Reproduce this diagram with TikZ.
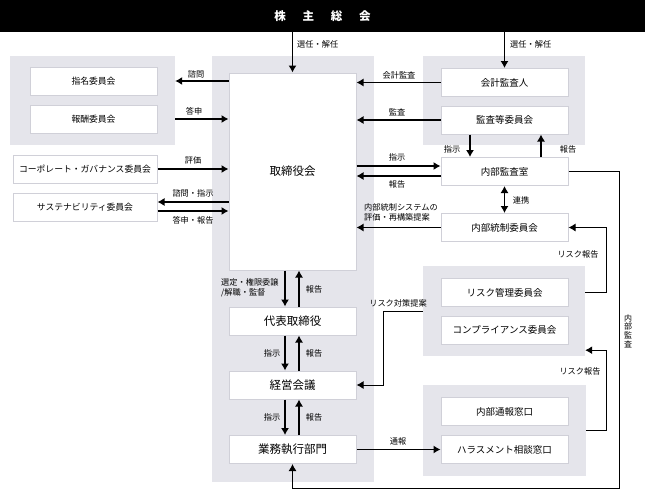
\documentclass[tikz,border=0pt]{standalone}
\usepackage{fontspec}
\setmainfont{Noto Sans CJK JP}
\usepackage{tikz}
\usetikzlibrary{arrows.meta}
\definecolor{grpgray}{HTML}{E5E5EB}
\definecolor{boxline}{HTML}{D0D0D8}
\tikzset{
	grp/.style={fill=grpgray, draw=none, inner sep=0pt},
	box/.style={draw=boxline, line width=1pt, fill=white, inner sep=0pt, minimum width=127pt, minimum height=28pt, font=\fontsize{9.5}{11}\selectfont},
	bigbox/.style={box, font=\fontsize{11.5}{13}\selectfont},
	arr/.style={line width=1.1pt, -{Latex[length=7pt,width=8pt]}},
	lbl/.style={font=\fontsize{8.2}{9.8}\selectfont, inner sep=0pt},
}

\begin{document}
\begin{tikzpicture}[x=1pt, y=-1pt]
		%%%%% START %%%%%
		\useasboundingbox (0, 0) rectangle (645, 490);
		
		\node[fill=black, inner sep=0pt, minimum width=645pt, minimum height=32pt, text=white, font=\bfseries\fontsize{11.5}{13}\selectfont] (soukai) at (322.5, 16) {株\hspace{1.45em}主\hspace{1.45em}総\hspace{1.45em}会};
		
		% grey groups
		\node[grp, minimum width=165pt, minimum height=89pt] (gleft) at (92.5, 100.5) {};
		\node[grp, minimum width=162pt, minimum height=426pt] (gcenter) at (293, 269) {};
		\node[grp, minimum width=162pt, minimum height=89pt] (gtop) at (504, 100.5) {};
		\node[grp, minimum width=162pt, minimum height=90pt] (gmid) at (504, 311) {};
		\node[grp, minimum width=163pt, minimum height=91pt] (gbot) at (504.5, 430.5) {};
		
		% left
		\node[box, font=\fontsize{8.8}{10}\selectfont] (shimei) at (93.5, 81) {指名委員会};
		\node[box, font=\fontsize{8.8}{10}\selectfont] (houshu) at (93.5, 119) {報酬委員会};
		\node[box, minimum width=144pt, font=\fontsize{8.8}{10}\selectfont] (cg) at (85, 169) {コーポレート・ガバナンス委員会};
		\node[box, minimum width=144pt, font=\fontsize{8.8}{10}\selectfont] (sus) at (85, 207) {サステナビリティ委員会};
		
		% center
		\node[bigbox, minimum height=197pt] (torishimari) at (292.5, 171.5) {取締役会};
		\node[bigbox] (daihyo) at (292.5, 321) {代表取締役};
		\node[bigbox] (keiei) at (292.5, 385) {経営会議};
		\node[bigbox] (gyomu) at (292.5, 449.5) {業務執行部門};
		
		% right
		\node[box] (kaikei) at (504.5, 82.5) {会計監査人};
		\node[box] (kansa) at (504.5, 120) {監査等委員会};
		\node[box] (naibu) at (504.5, 171.5) {内部監査室};
		\node[box] (tousei) at (504.5, 227.5) {内部統制委員会};
		\node[box] (risk) at (504.5, 292.5) {リスク管理委員会};
		\node[box] (comp) at (504.5, 330) {コンプライアンス委員会};
		\node[box] (tsuho) at (504.5, 411.5) {内部通報窓口};
		\node[box] (hara) at (504.5, 449.5) {ハラスメント相談窓口};
		
		% from the shareholders
		\draw[arr] (soukai.south -| torishimari) -- (torishimari.north);
		\node[lbl, anchor=west] (l1) at (297, 44) {選任・解任};
		\draw[arr] (soukai.south -| kaikei) -- (kaikei.north);
		\node[lbl, anchor=west] (l2) at (510, 44) {選任・解任};
		
		% left arrows
		\draw[arr] (torishimari.west |- shimei) -- (gleft.east |- shimei);
		\node[lbl] (l3) at (196, 74) {諮問};
		\draw[arr] (gleft.east |- houshu) -- (torishimari.west |- houshu);
		\node[lbl] (l4) at (194, 111) {答申};
		\draw[arr] (cg.east) -- (torishimari.west |- cg);
		\node[lbl] (l5) at (193, 160) {評価};
		\draw[arr] ([yshift=5pt]sus.east -| torishimari.west) -- ([yshift=5pt]sus.east);
		\node[lbl] (l6) at (193, 193) {諮問・指示};
		\draw[arr] ([yshift=-4pt]sus.east) -- ([yshift=-4pt]sus.east -| torishimari.west);
		\node[lbl] (l7) at (193, 220) {答申・報告};
		
		% right arrows
		\draw[arr] (kaikei.west) -- (torishimari.east |- kaikei);
		\node[lbl] (l8) at (399, 75) {会計監査};
		\draw[arr] (kansa.west) -- (torishimari.east |- kansa);
		\node[lbl] (l9) at (397, 112) {監査};
		\draw[arr] ([yshift=5.5pt]naibu.west -| torishimari.east) -- ([yshift=5.5pt]naibu.west);
		\node[lbl] (l10) at (397, 157) {指示};
		\draw[arr] ([yshift=-4.5pt]naibu.west) -- ([yshift=-4.5pt]naibu.west -| torishimari.east);
		\node[lbl] (l11) at (397, 184) {報告};
		\draw[arr] ([xshift=-34.5pt]kansa.south) -- ([xshift=-34.5pt]naibu.north);
		\node[lbl] (l12) at (452, 149) {指示};
		\draw[arr] ([xshift=36.5pt]naibu.north) -- ([xshift=36.5pt]kansa.south);
		\node[lbl] (l13) at (568, 149) {報告};
		\draw[line width=1.1pt, {Latex[length=7pt,width=8pt]}-{Latex[length=7pt,width=8pt]}] (naibu.south) -- (tousei.north);
		\node[lbl] (l14) at (521, 200) {連携};
		\draw[arr] (tousei.west) -- (torishimari.east |- tousei);
		\node[lbl, anchor=west, align=left] (l15) at (364, 212) {内部統制システムの\\評価・再構築提案};
		
		% internal audit
		\coordinate (audit) at (619, 488);
		\draw[arr, line width=1pt] (naibu.east) -| (audit) -| (gyomu.south);
		\node[lbl, align=center, font=\fontsize{8}{8.6}\selectfont] (l16) at (628, 331) {内\\部\\監\\査};
		
		% risk reports
		\draw[arr, line width=1pt] (gmid.east |- risk) -| ([xshift=38pt]tousei.east) -- (tousei.east);
		\node[lbl] (l17) at (578, 254) {リスク報告};
		\draw[arr, line width=1pt] (gbot.east) -| ([xshift=21pt,yshift=6pt]gmid.south east) -- ([yshift=6pt]gmid.south east);
		\node[lbl] (l18) at (580, 371) {リスク報告};
		\coordinate (taisaku) at (383, 311);
		\draw[arr, line width=1pt] (gmid.west) -- (taisaku) |- (keiei.east);
		\node[lbl] (l19) at (398, 303) {リスク対策提案};
		
		% center chain
		\draw[arr] ([xshift=-7.5pt]torishimari.south) -- ([xshift=-7.5pt]daihyo.north);
		\draw[arr] ([xshift=6.5pt]daihyo.north) -- ([xshift=6.5pt]torishimari.south);
		\node[lbl, anchor=west, align=left] (l20) at (221, 288) {選定・権限委譲\\/解職・監督};
		\node[lbl] (l21) at (314, 289) {報告};
		\draw[arr] ([xshift=-7.5pt]daihyo.south) -- ([xshift=-7.5pt]keiei.north);
		\draw[arr] ([xshift=6.5pt]keiei.north) -- ([xshift=6.5pt]daihyo.south);
		\node[lbl] (l22) at (272, 353) {指示};
		\node[lbl] (l23) at (314, 353) {報告};
		\draw[arr] ([xshift=-7.5pt]keiei.south) -- ([xshift=-7.5pt]gyomu.north);
		\draw[arr] ([xshift=6.5pt]gyomu.north) -- ([xshift=6.5pt]keiei.south);
		\node[lbl] (l24) at (272, 417) {指示};
		\node[lbl] (l25) at (314, 417) {報告};
		
		\draw[arr] (gyomu.east) -- (hara.west);
		\node[lbl] (l26) at (398, 441) {通報};
		
		%%%%% END %%%%%
	\end{tikzpicture}
\end{document}
